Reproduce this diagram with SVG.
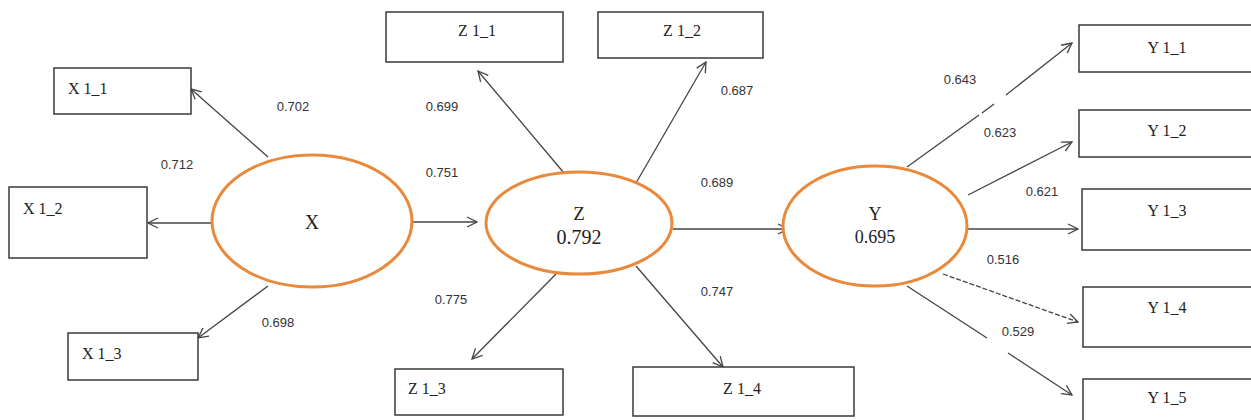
<svg xmlns="http://www.w3.org/2000/svg" width="1251" height="420" viewBox="0 0 1251 420">
<style>
.box{fill:#fff;stroke:#3a3a3a;stroke-width:1.5}
.lv{fill:#fff;stroke:#E8893C;stroke-width:3}
.bl{font-family:"Liberation Serif",serif;font-size:16px;fill:#222}
.num{font-family:"Liberation Sans",sans-serif;font-size:13px;fill:#333;text-anchor:middle}
.lvt{font-family:"Liberation Serif",serif;fill:#222;text-anchor:middle}
.c{stroke:#444;stroke-width:1.3;fill:none;marker-end:url(#ah)}
.cn{stroke:#444;stroke-width:1.3;fill:none}
</style>
<defs>
<marker id="ah" viewBox="0 0 12 12" refX="11" refY="6" markerWidth="12" markerHeight="12" markerUnits="userSpaceOnUse" orient="auto">
<path d="M1,1 L11,6 L1,11" fill="none" stroke="#444" stroke-width="1.3"/>
</marker>
</defs>
<g id="connectors">
<line class="c" x1="268" y1="157" x2="191" y2="89"/>
<line class="c" x1="218" y1="223" x2="148" y2="223"/>
<line class="c" x1="268" y1="286" x2="198" y2="338"/>
<line class="c" x1="412" y1="222" x2="477" y2="222"/>
<line class="c" x1="564" y1="173" x2="478" y2="71"/>
<line class="c" x1="636" y1="183" x2="706" y2="62"/>
<line class="c" x1="556" y1="274" x2="472" y2="359"/>
<line class="c" x1="636" y1="266" x2="723" y2="367"/>
<line class="c" x1="673" y1="229" x2="788" y2="229"/>
<line class="cn" x1="907" y1="167" x2="979" y2="115"/>
<line class="cn" x1="982" y1="113" x2="994" y2="104"/>
<line class="c" x1="1006" y1="95" x2="1072" y2="43"/>
<line class="c" x1="968" y1="195" x2="1072" y2="142"/>
<line class="c" x1="968" y1="229" x2="1078" y2="229"/>
<line class="c" x1="943" y1="274" x2="1078" y2="322" stroke-dasharray="5,2"/>
<line class="cn" x1="907" y1="286" x2="987" y2="338"/>
<line class="c" x1="1008" y1="353" x2="1072" y2="395"/>
</g>
<g id="n-x11"><rect class="box" x="54" y="68" width="137" height="46"/><text class="bl" x="68" y="94" font-size="17">X 1_1</text></g>
<g id="n-x12"><rect class="box" x="9" y="187" width="138" height="71"/><text class="bl" x="23" y="214" font-size="17">X 1_2</text></g>
<g id="n-x13"><rect class="box" x="68" y="333" width="130" height="47"/><text class="bl" x="82" y="359" font-size="17">X 1_3</text></g>
<g id="n-z11"><rect class="box" x="386" y="12" width="177" height="50"/><text class="bl" x="477" y="36" text-anchor="middle">Z 1_1</text></g>
<g id="n-z12"><rect class="box" x="598" y="12" width="165" height="46"/><text class="bl" x="682" y="36" text-anchor="middle">Z 1_2</text></g>
<g id="n-z13"><rect class="box" x="395" y="369" width="168" height="46"/><text class="bl" x="408" y="394">Z 1_3</text></g>
<g id="n-z14"><rect class="box" x="633" y="367" width="221" height="49"/><text class="bl" x="742" y="394" text-anchor="middle">Z 1_4</text></g>
<g id="n-y11"><rect class="box" x="1079" y="25" width="190" height="47"/><text class="bl" x="1167" y="53" text-anchor="middle" font-size="17">Y 1_1</text></g>
<g id="n-y12"><rect class="box" x="1079" y="110" width="190" height="47"/><text class="bl" x="1167" y="136" text-anchor="middle" font-size="17">Y 1_2</text></g>
<g id="n-y13"><rect class="box" x="1082" y="189" width="190" height="61"/><text class="bl" x="1167" y="216" text-anchor="middle" font-size="17">Y 1_3</text></g>
<g id="n-y14"><rect class="box" x="1083" y="287" width="190" height="60"/><text class="bl" x="1167" y="313" text-anchor="middle" font-size="17">Y 1_4</text></g>
<g id="n-y15"><rect class="box" x="1083" y="379" width="190" height="60"/><text class="bl" x="1167" y="403" text-anchor="middle" font-size="17">Y 1_5</text></g>
<g id="n-x"><ellipse class="lv" cx="312" cy="221" rx="100" ry="66"/><text class="lvt" x="312" y="229" font-size="20">X</text></g>
<g id="n-z"><ellipse class="lv" cx="579" cy="223" rx="93" ry="51"/><text class="lvt" x="579" y="220" font-size="19">Z</text><text class="lvt" x="579" y="244" font-size="20">0.792</text></g>
<g id="n-y"><ellipse class="lv" cx="875" cy="226" rx="92" ry="60"/><text class="lvt" x="875" y="220" font-size="18">Y</text><text class="lvt" x="875" y="243" font-size="18">0.695</text></g>
<g id="labels">
<text class="num" x="293" y="111">0.702</text>
<text class="num" x="177" y="169">0.712</text>
<text class="num" x="278" y="327">0.698</text>
<text class="num" x="442" y="111">0.699</text>
<text class="num" x="737" y="95">0.687</text>
<text class="num" x="442" y="177">0.751</text>
<text class="num" x="717" y="187">0.689</text>
<text class="num" x="451" y="304">0.775</text>
<text class="num" x="717" y="296">0.747</text>
<text class="num" x="960" y="84">0.643</text>
<text class="num" x="1000" y="137">0.623</text>
<text class="num" x="1042" y="196">0.621</text>
<text class="num" x="1003" y="264">0.516</text>
<text class="num" x="1018" y="336">0.529</text>
</g>
</svg>
